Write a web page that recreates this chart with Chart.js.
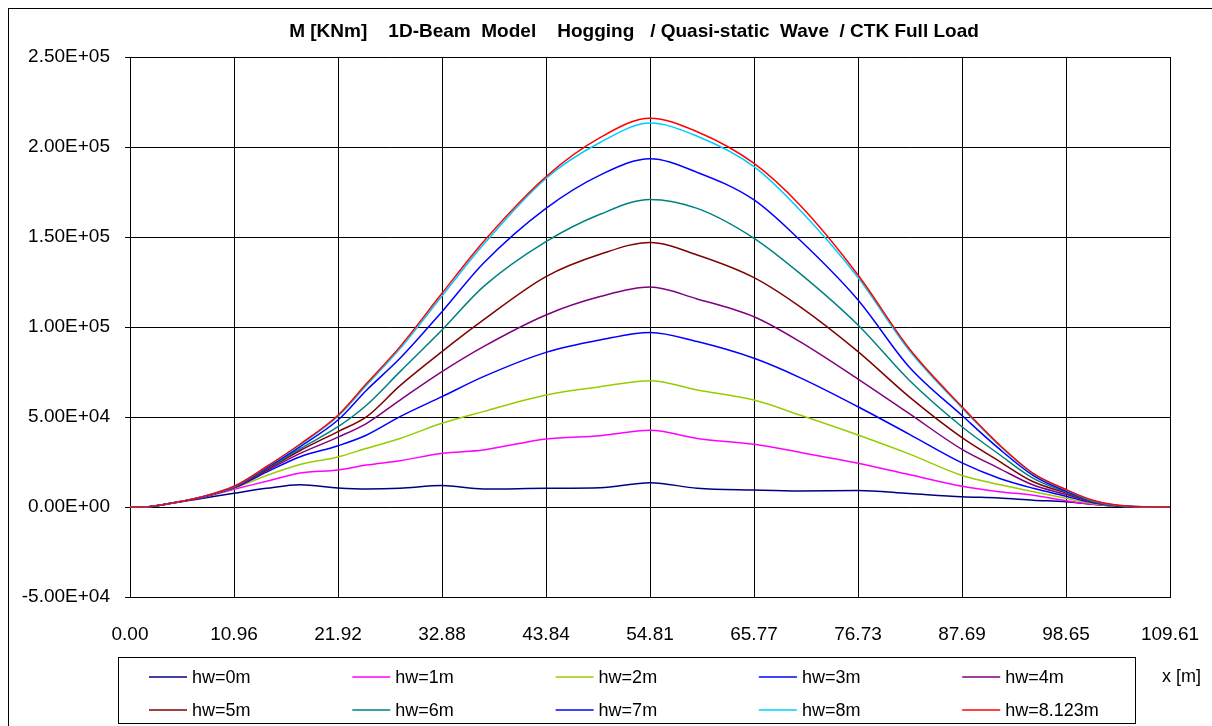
<!DOCTYPE html>
<html>
<head>
<meta charset="utf-8">
<script src="https://cdn.jsdelivr.net/npm/chart.js@4.4.0/dist/chart.umd.min.js"></script>
<style>
  body { margin: 0; background: #fff; }
  canvas { display: block; }
</style>
</head>
<body>
<canvas id="chart" width="1212" height="726"></canvas>
<script>
// x positions along the beam [m]
const xPos = [0, 1.5, 3.87, 7.38, 10.96, 14.4, 17.94, 21.92, 24.95, 28.46, 32.88, 37.25, 43.84, 49.54, 54.81,
  59.78, 65.77, 70.6, 76.73, 82.1, 87.69, 91.59, 95.2, 98.65, 101.5, 103.96, 107.8, 109.61];

// bending moment M [kNm] per wave height
const hw0 = [0, 0, 1700, 4600, 7600, 10400, 12400, 10600, 10000, 10400, 11900, 10000, 10400, 10700, 13500,
  10400, 9400, 8900, 9200, 7500, 5700, 5000, 3800, 2900, 1500, 500, 0, 0];
const hw1 = [0, 0, 1700, 5000, 9900, 14300, 18900, 20600, 23300, 25700, 29800, 31700, 37800, 39600, 42600,
  38100, 34800, 30400, 24300, 18000, 11500, 8500, 6500, 3500, 1500, 500, 0, 0];
const hw2 = [0, 0, 1700, 5200, 10400, 17500, 23600, 27800, 32600, 38100, 46500, 53000, 62200, 66800, 70200,
  65000, 59400, 51100, 40000, 29500, 17500, 12500, 8500, 4800, 2000, 600, 0, 0];
const hw3 = [0, 0, 1700, 5200, 10600, 19400, 27900, 34000, 40000, 50200, 61300, 72400, 85900, 92800, 97000,
  91900, 82600, 71900, 55700, 40500, 24500, 16000, 10400, 6000, 2300, 700, 0, 0];
const hw4 = [0, 0, 1700, 5200, 10800, 20200, 29800, 38800, 46500, 59400, 75200, 89100, 106700, 116900, 122200,
  115600, 105700, 91900, 71100, 52000, 32000, 21500, 12200, 7000, 2600, 700, 0, 0];
const hw5 = [0, 0, 1700, 5200, 10900, 20800, 31400, 41900, 50200, 67400, 86300, 103900, 128000, 140400, 147000,
  140000, 127400, 111300, 86300, 61300, 38500, 25500, 14000, 7800, 2900, 800, 0, 0];
const hw6 = [0, 0, 1700, 5300, 11000, 21300, 32400, 44600, 56700, 75200, 98300, 122400, 147400, 162600, 170900,
  165900, 149300, 129800, 101100, 70600, 44600, 29300, 15900, 8300, 3100, 800, 0, 0];
const hw7 = [0, 0, 1700, 5300, 11200, 21800, 33600, 48300, 65000, 82600, 108500, 135400, 165900, 184400, 193500,
  185900, 170600, 148300, 115000, 77900, 50800, 32400, 17500, 8800, 3300, 900, 0, 0];
const hw8 = [0, 0, 1700, 5400, 11400, 22300, 34600, 50400, 67800, 88000, 117200, 145800, 182600, 202500, 213300,
  206000, 189100, 165000, 127500, 87200, 55000, 34300, 18400, 9500, 3500, 1000, 0, 0];
const hw8123 = [0, 0, 1700, 5400, 11500, 22500, 35000, 51000, 68700, 89100, 118700, 147400, 183500, 205200, 216000,
  208500, 190900, 167800, 128900, 88200, 55700, 34800, 18700, 9700, 3700, 1100, 0, 0];

const seriesLabels = ["hw=0m", "hw=1m", "hw=2m", "hw=3m", "hw=4m", "hw=5m", "hw=6m", "hw=7m", "hw=8m", "hw=8.123m"];
const seriesValues = [hw0, hw1, hw2, hw3, hw4, hw5, hw6, hw7, hw8, hw8123];
const seriesColors = ["#000080", "#ff00ff", "#99cc00", "#0000ff", "#800080", "#800000", "#008080", "#0000ff", "#00ccff", "#ff0000"];

const xTickValues = [0, 10.961, 21.922, 32.883, 43.844, 54.805, 65.766, 76.727, 87.688, 98.649, 109.61];
const xTickLabels = ["0.00", "10.96", "21.92", "32.88", "43.84", "54.81", "65.77", "76.73", "87.69", "98.65", "109.61"];
const yTickLabels = ["-5.00E+04", "0.00E+00", "5.00E+04", "1.00E+05", "1.50E+05", "2.00E+05", "2.50E+05"];

const titleText = "M [KNm]    1D-Beam  Model    Hogging   / Quasi-static  Wave  / CTK Full Load";
const FONT = "'Liberation Sans', Arial, sans-serif";

const datasets = seriesValues.map((vals, i) => ({
  label: seriesLabels[i],
  data: vals.map((v, k) => ({ x: xPos[k], y: v })),
  borderColor: seriesColors[i],
  backgroundColor: seriesColors[i],
  borderWidth: 1.5,
  pointRadius: 0,
  cubicInterpolationMode: "monotone",
  order: seriesValues.length - i,
}));

// frame, title, legend box and x-axis name
const extras = {
  id: "extras",
  afterDraw(chart) {
    const ctx = chart.ctx;
    ctx.save();
    ctx.strokeStyle = "#000";
    ctx.lineWidth = 1;
    ctx.strokeRect(8.5, 8.5, 1240, 760);

    ctx.fillStyle = "#000";
    ctx.font = "bold 19px " + FONT;
    ctx.textAlign = "center";
    ctx.textBaseline = "middle";
    ctx.fillText(titleText, 634, 32);

    ctx.strokeRect(118.5, 657.5, 1017, 66);
    ctx.font = "18px " + FONT;
    ctx.textAlign = "left";
    chart.data.datasets.forEach((ds, i) => {
      const col = i % 5, row = Math.floor(i / 5);
      const x = 149 + col * 203.3;
      const y = row === 0 ? 677 : 710;
      ctx.strokeStyle = ds.borderColor;
      ctx.lineWidth = 1.5;
      ctx.beginPath();
      ctx.moveTo(x, y);
      ctx.lineTo(x + 38, y);
      ctx.stroke();
      ctx.fillStyle = "#000";
      ctx.fillText(ds.label, x + 43, y + 1);
    });

    ctx.font = "18px " + FONT;
    ctx.fillText("x [m]", 1162, 677);
    ctx.restore();
  }
};

new Chart(document.getElementById("chart"), {
  type: "line",
  data: { datasets },
  options: {
    responsive: false,
    animation: false,
    layout: { padding: { top: 57, right: 42, left: 0, bottom: 0 } },
    plugins: {
      legend: { display: false },
      title: { display: false },
      tooltip: { enabled: false },
    },
    scales: {
      x: {
        type: "linear",
        min: 0,
        max: 109.61,
        afterBuildTicks: (s) => { s.ticks = xTickValues.map(v => ({ value: v })); },
        afterFit: (s) => { s.height = 129; s.paddingLeft = 0; s.paddingRight = 0; },
        grid: { color: "#000", lineWidth: 1, drawTicks: false },
        border: { color: "#000", width: 1 },
        ticks: {
          autoSkip: false,
          maxRotation: 0,
          padding: 26,
          color: "#000",
          font: { family: FONT, size: 19 },
          callback: (v, i) => xTickLabels[i],
        },
      },
      y: {
        min: -50000,
        max: 250000,
        afterFit: (s) => { s.width = 130; s.paddingTop = 0; s.paddingBottom = 0; },
        grid: { color: "#000", lineWidth: 1, drawTicks: true, tickLength: 5 },
        border: { color: "#000", width: 1 },
        ticks: {
          stepSize: 50000,
          padding: 15,
          color: "#000",
          font: { family: FONT, size: 19 },
          callback: (v, i) => yTickLabels[i],
        },
      },
    },
  },
  plugins: [extras],
});
</script>
</body>
</html>
